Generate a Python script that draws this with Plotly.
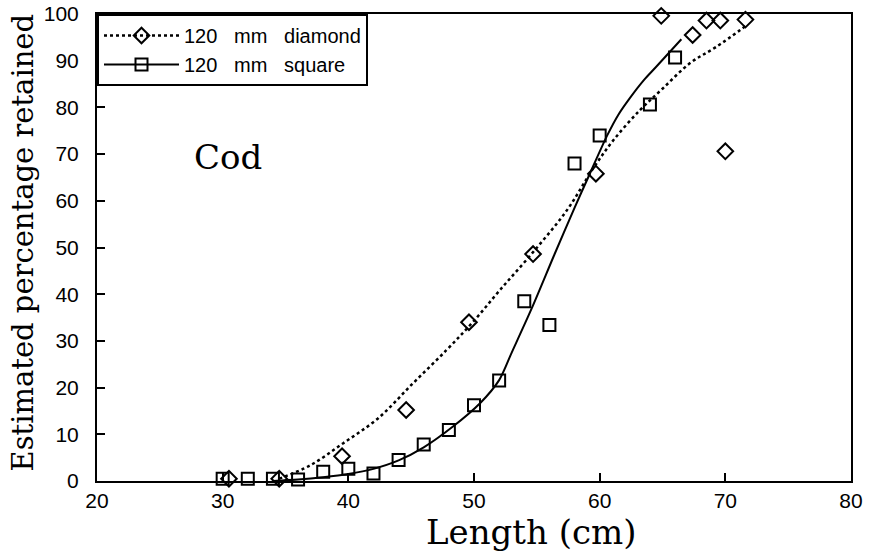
import plotly.graph_objects as go

# Observed data: 120 mm diamond mesh
diamond_len = [30.5, 34.5, 39.5, 44.6, 49.6, 54.7, 59.7, 64.9, 67.4, 68.5, 69.6, 70.0, 71.6]
diamond_pct = [0.5, 0.5, 5.3, 15.2, 34.0, 48.6, 65.8, 99.6, 95.5, 98.6, 98.6, 70.6, 98.8]

# Observed data: 120 mm square mesh
square_len = [30, 32, 34, 36, 38, 40, 42, 44, 46, 48, 50, 52, 54, 56, 58, 60, 62, 64, 66]
square_pct = [0.5, 0.5, 0.5, 0.3, 2.0, 2.6, 1.6, 4.5, 7.8, 10.9, 16.2, 21.5, 38.5, 33.4, 68.0, 74.0, 100.5, 80.6, 90.7]

# Fitted curves
diamond_fit_len = [34.5, 37.0, 39.6, 42.4, 45.1, 47.8, 49.9, 52.1, 54.7, 57.4, 59.5, 61.1, 63.2, 65.0, 67.2, 69.3, 71.7]
diamond_fit_pct = [0.5, 3.4, 8.1, 13.5, 20.8, 28.0, 34.0, 41.0, 49.0, 58.0, 67.0, 73.0, 79.4, 84.0, 89.5, 93.0, 97.6]

square_fit_len = [34.0, 36.0, 38.0, 40.0, 42.0, 44.0, 46.0, 48.3, 50.5, 52.0, 53.0, 54.6, 56.4, 58.0, 59.1, 60.6, 61.5, 62.4, 63.5, 64.5, 66.5]
square_fit_pct = [0.0, 0.3, 0.8, 1.5, 2.6, 4.4, 7.2, 11.6, 16.7, 21.6, 27.5, 37.0, 48.5, 58.5, 65.1, 74.0, 78.5, 82.0, 85.8, 88.7, 94.6]

x_ticks = [20, 30, 40, 50, 60, 70, 80]
y_ticks = [0, 10, 20, 30, 40, 50, 60, 70, 80, 90, 100]

sp = "\u00a0\u00a0\u00a0"
legend_names = ["120" + sp + "mm" + sp + "diamond", "120" + sp + "mm" + sp + "square"]

fig = go.Figure()

fig.add_trace(go.Scatter(x=diamond_fit_len, y=diamond_fit_pct, mode="lines",
                         line=dict(color="black", width=2.5, dash="dot"), line_shape="spline",
                         showlegend=False, hoverinfo="skip"))
fig.add_trace(go.Scatter(x=square_fit_len, y=square_fit_pct, mode="lines",
                         line=dict(color="black", width=2, smoothing=0.8), line_shape="spline",
                         showlegend=False, hoverinfo="skip"))
fig.add_trace(go.Scatter(x=diamond_len, y=diamond_pct, mode="markers",
                         marker=dict(symbol="diamond-open", size=12, color="black",
                                     line=dict(width=2, color="black")),
                         showlegend=False, cliponaxis=False))
fig.add_trace(go.Scatter(x=square_len, y=square_pct, mode="markers",
                         marker=dict(symbol="square-open", size=12, color="black",
                                     line=dict(width=2, color="black")),
                         showlegend=False, cliponaxis=False))

# legend entries
fig.add_trace(go.Scatter(x=[None], y=[None], mode="lines+markers", name=legend_names[0],
                         line=dict(color="black", width=2.5, dash="dot"),
                         marker=dict(symbol="diamond-open", size=12, color="black",
                                     line=dict(width=2, color="black"))))
fig.add_trace(go.Scatter(x=[None], y=[None], mode="lines+markers", name=legend_names[1],
                         line=dict(color="black", width=2),
                         marker=dict(symbol="square-open", size=12, color="black",
                                     line=dict(width=2, color="black"))))

fig.add_annotation(x=30.4, y=69.4, text="Cod", showarrow=False,
                   font=dict(family="DejaVu Serif", size=34, color="black"))

# axis titles
fig.add_annotation(xref="paper", yref="paper", x=0.5, y=0, xshift=57, yshift=-51,
                   xanchor="center", yanchor="middle",
                   text="Length (cm)", showarrow=False,
                   font=dict(family="DejaVu Serif", size=34, color="black"))
fig.add_annotation(xref="paper", yref="paper", x=0, y=0.5, xshift=-75, yshift=5,
                   xanchor="center", yanchor="middle",
                   text="Estimated percentage retained", showarrow=False, textangle=-90,
                   font=dict(family="DejaVu Serif", size=29, color="black"))

fig.update_layout(
    width=881, height=551,
    margin=dict(l=97, r=30, t=14, b=70),
    paper_bgcolor="white", plot_bgcolor="white",
    font=dict(family="Liberation Sans", color="black"),
    showlegend=True,
    legend=dict(x=0, y=1, xanchor="left", yanchor="top",
                bordercolor="black", borderwidth=2, bgcolor="white",
                font=dict(family="Liberation Sans", size=20, color="black"),
                itemwidth=75, tracegroupgap=0),
)

fig.update_xaxes(range=[20, 80], tickvals=x_ticks, ticks="inside", ticklen=8,
                 tickwidth=1.5, tickcolor="black", automargin=False,
                 showline=True, linecolor="black", linewidth=2, mirror=True,
                 showgrid=False, zeroline=False,
                 tickfont=dict(family="Liberation Sans", size=21, color="black"))
fig.update_yaxes(range=[0, 100], tickvals=y_ticks, ticks="inside", ticklen=8,
                 tickwidth=1.5, tickcolor="black", automargin=False,
                 showline=True, linecolor="black", linewidth=2, mirror=True,
                 showgrid=False, zeroline=False, ticklabelstandoff=12,
                 tickfont=dict(family="Liberation Sans", size=21, color="black"))

fig.write_html("out.html")
